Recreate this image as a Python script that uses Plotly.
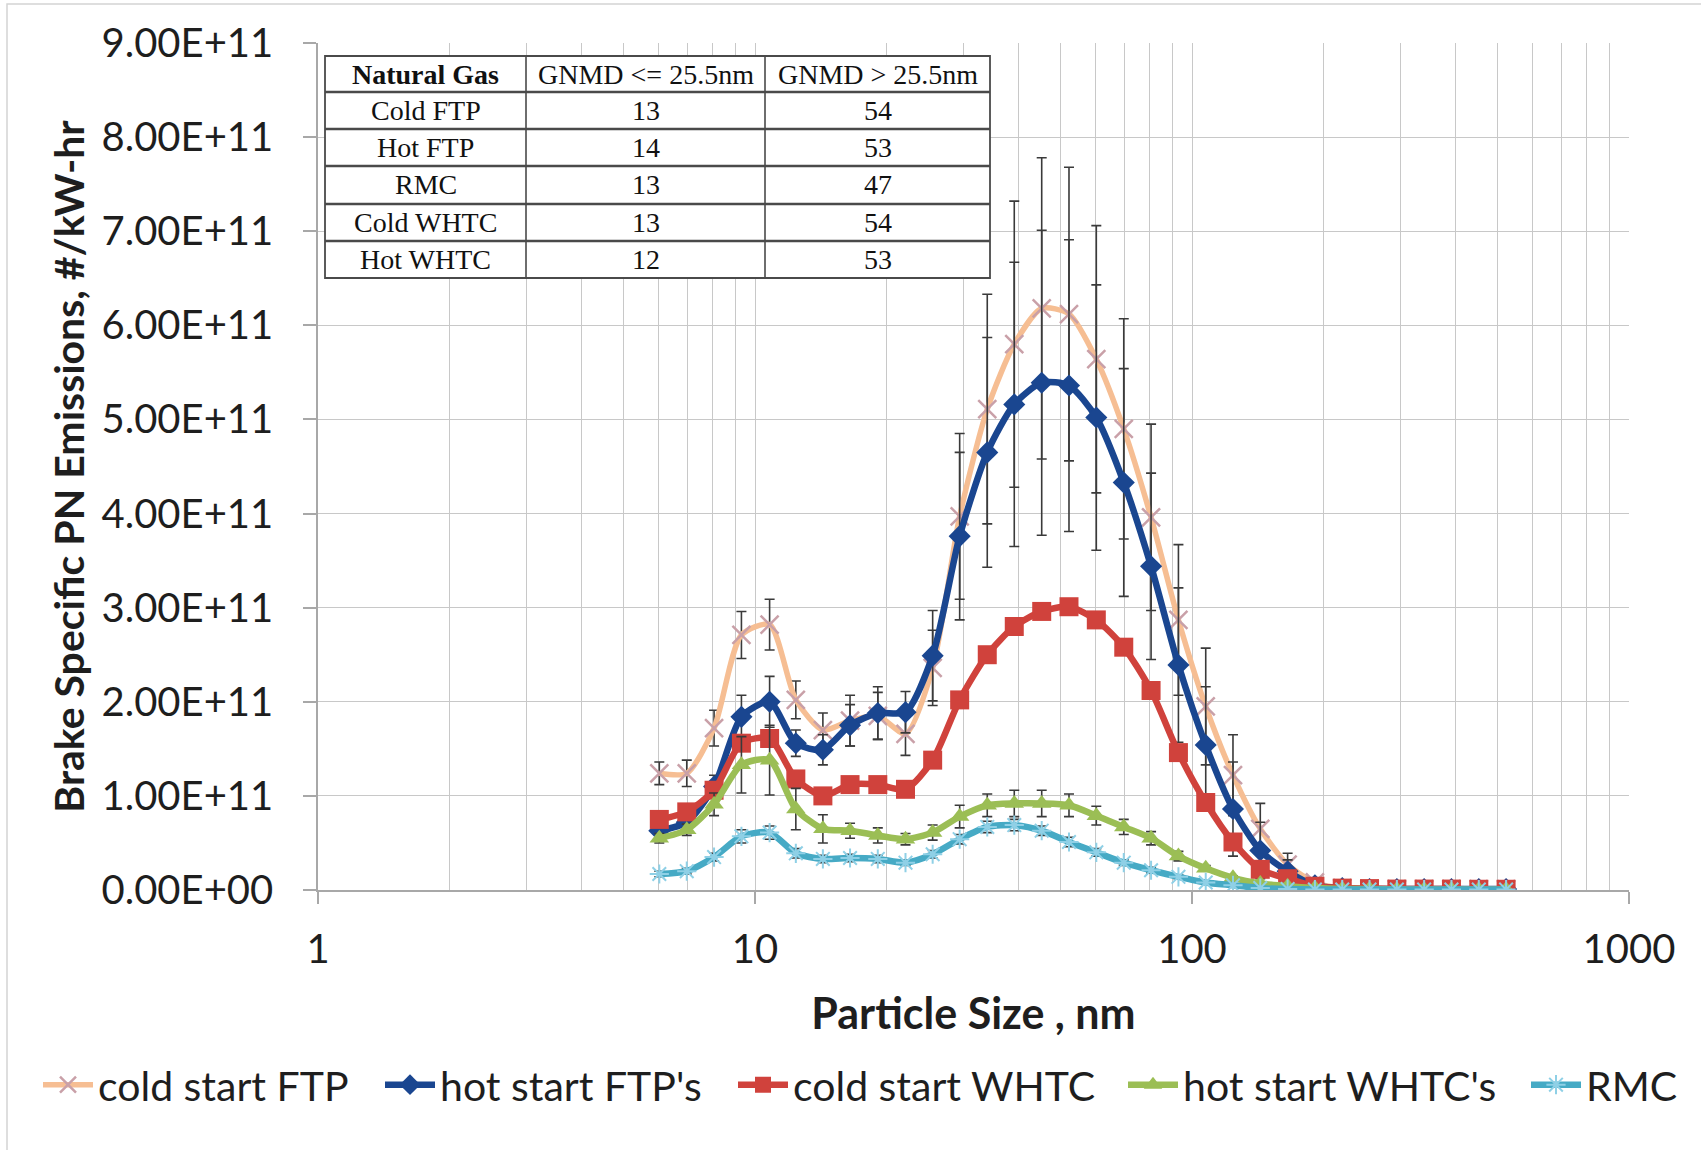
import plotly.graph_objects as go

# ---------------- data ----------------
particle_size_nm = [6.04, 6.98, 8.06, 9.31, 10.8, 12.4, 14.3, 16.5, 19.1, 22.1, 25.5,
                    29.4, 34.0, 39.2, 45.3, 52.3, 60.4, 69.8, 80.6, 93.1, 107.5, 124.1,
                    143.3, 165.5, 191.1, 220.7, 254.8, 294.3, 339.8, 392.4, 453.2, 523.3]

SCALE = 1e11  # values below are in units of 1E+11 #/kW-hr

cold_start_ftp = [1.24, 1.24, 1.72, 2.71, 2.82, 2.02, 1.70, 1.80, 1.85, 1.66, 2.36,
                  3.97, 5.11, 5.80, 6.18, 6.12, 5.64, 4.90, 3.96, 2.87, 1.95, 1.22,
                  0.65, 0.27, 0.08, 0.02, 0.01, 0.01, 0.01, 0.01, 0.01, 0.01]
cold_start_ftp_err = [0.12, 0.14, 0.19, 0.25, 0.27, 0.20, 0.18, 0.27, 0.25, 0.23, 0.40,
                      0.88, 1.22, 1.52, 1.60, 1.56, 1.42, 1.17, 0.99, 0.80, 0.62, 0.43,
                      0.27, 0.12, 0.04, 0.01, 0, 0, 0, 0, 0, 0]

hot_start_ftp = [0.63, 0.72, 1.10, 1.84, 2.00, 1.56, 1.49, 1.75, 1.88, 1.89, 2.49,
                 3.76, 4.65, 5.16, 5.39, 5.36, 5.02, 4.33, 3.44, 2.39, 1.54, 0.86,
                 0.42, 0.20, 0.05, 0.02, 0.01, 0.01, 0.01, 0.01, 0.01, 0.01]
hot_start_ftp_err = [0.05, 0.06, 0.12, 0.23, 0.27, 0.14, 0.16, 0.22, 0.28, 0.22, 0.48,
                     0.89, 1.22, 1.51, 1.62, 1.55, 1.41, 1.21, 0.99, 0.82, 0.62, 0.50,
                     0.30, 0.12, 0.04, 0.01, 0, 0, 0, 0, 0, 0]

cold_start_whtc = [0.75, 0.83, 1.06, 1.56, 1.61, 1.18, 1.00, 1.12, 1.12, 1.07, 1.38,
                   2.02, 2.50, 2.80, 2.96, 3.01, 2.87, 2.58, 2.12, 1.46, 0.93, 0.51,
                   0.22, 0.12, 0.04, 0.02, 0.015, 0.01, 0.01, 0.01, 0.008, 0.008]

hot_start_whtc = [0.55, 0.64, 0.91, 1.33, 1.38, 0.86, 0.65, 0.63, 0.58, 0.54, 0.61,
                  0.78, 0.90, 0.92, 0.92, 0.90, 0.79, 0.67, 0.55, 0.36, 0.23, 0.13,
                  0.07, 0.04, 0.02, 0.01, 0.01, 0.005, 0.005, 0.005, 0.005, 0.005]
hot_start_whtc_err = [0.05, 0.06, 0.12, 0.30, 0.37, 0.22, 0.15, 0.08, 0.08, 0.06, 0.08,
                      0.12, 0.12, 0.14, 0.14, 0.12, 0.10, 0.08, 0.07, 0.05, 0.03, 0.02,
                      0.01, 0, 0, 0, 0, 0, 0, 0, 0, 0]

rmc = [0.17, 0.20, 0.35, 0.57, 0.61, 0.39, 0.33, 0.34, 0.33, 0.29, 0.38,
       0.54, 0.67, 0.69, 0.63, 0.51, 0.40, 0.29, 0.21, 0.14, 0.08, 0.05,
       0.02, 0.01, 0.005, 0.005, 0.005, 0.005, 0.005, 0.005, 0.005, 0.005]
rmc_err = [0.03, 0.03, 0.04, 0.07, 0.07, 0.05, 0.04, 0.04, 0.04, 0.03, 0.04,
           0.05, 0.06, 0.06, 0.05, 0.05, 0.04, 0.03, 0.03, 0.02, 0.01, 0.01,
           0, 0, 0, 0, 0, 0, 0, 0, 0, 0]

series_names = ["cold start FTP", "hot start FTP's", "cold start WHTC",
                "hot start WHTC's", "RMC"]

y_tick_values = [0, 1e11, 2e11, 3e11, 4e11, 5e11, 6e11, 7e11, 8e11, 9e11]
y_tick_labels = ["0.00E+00", "1.00E+11", "2.00E+11", "3.00E+11", "4.00E+11",
                 "5.00E+11", "6.00E+11", "7.00E+11", "8.00E+11", "9.00E+11"]
x_tick_values = [1, 10, 100, 1000]
x_tick_labels = ["1", "10", "100", "1000"]

x_title = "Particle Size , nm"
y_title = "Brake Specific PN Emissions, #/kW-hr"

table_header = ["<b>Natural Gas</b>", "GNMD &lt;= 25.5nm", "GNMD &gt; 25.5nm"]
table_cycles = ["Cold FTP", "Hot FTP", "RMC", "Cold WHTC", "Hot WHTC"]
table_gnmd_small = ["13", "14", "13", "13", "12"]
table_gnmd_large = ["54", "53", "47", "54", "53"]

# ---------------- layout geometry (pixels) ----------------
W, H = 1701, 1150
PX0, PX1, PY0, PY1 = 318, 1629, 43, 890


def fx(px):
    return (px - PX0) / (PX1 - PX0)


def fy(py):
    return (PY1 - py) / (PY1 - PY0)


FONT = "Lato, 'Open Sans', sans-serif"
TXT = "#1e1e1e"
GRID = "#C8C8C8"
ERR = "#3a3a3a"

fig = go.Figure()

styles = [
    dict(y=cold_start_ftp, err=cold_start_ftp_err, line="#F6BE93", lw=5.5,
         marker=dict(symbol="x-thin", size=18, color="#C9A0A8",
                     line=dict(width=2.5, color="#C9A0A8"))),
    dict(y=hot_start_ftp, err=hot_start_ftp_err, line="#1A4690", lw=6.5,
         marker=dict(symbol="diamond", size=17, color="#1A4690", line=dict(width=0))),
    dict(y=cold_start_whtc, err=None, line="#D0423C", lw=6.5,
         marker=dict(symbol="square", size=19, color="#D0423C", line=dict(width=0))),
    dict(y=hot_start_whtc, err=hot_start_whtc_err, line="#9BBE55", lw=6.5,
         marker=dict(symbol="triangle-up", size=17, color="#9BBE55", line=dict(width=0))),
    dict(y=rmc, err=rmc_err, line="#46AAC5", lw=6.5,
         marker=dict(symbol="asterisk", size=16, color="#8FD0E6",
                     line=dict(width=2, color="#8FD0E6"))),
]

legend_ids = ["legend", "legend2", "legend3", "legend4", "legend5"]

for name, st, lid in zip(series_names, styles, legend_ids):
    yv = [v * SCALE for v in st["y"]]
    err = None
    if st["err"] is not None:
        err = dict(type="data", array=[e * SCALE for e in st["err"]], color=ERR,
                   thickness=1.6, width=5)
    fig.add_trace(go.Scatter(
        x=particle_size_nm, y=yv, name=name, mode="lines+markers",
        line=dict(color=st["line"], width=st["lw"], shape="spline", smoothing=0.7),
        marker=st["marker"], error_y=err, legend=lid, showlegend=True,
    ))

# ---------------- table (shapes + annotations) ----------------
table_x = [325, 526, 765, 990]
table_y = [56, 92, 129, 166, 204, 241, 278]
TLINE = "#4a4a4a"

fig.add_shape(type="rect", xref="paper", yref="paper",
              x0=fx(table_x[0]), x1=fx(table_x[-1]), y0=fy(table_y[-1]), y1=fy(table_y[0]),
              fillcolor="white", line=dict(color=TLINE, width=1.8), layer="above")
for yy in table_y[1:-1]:
    fig.add_shape(type="line", xref="paper", yref="paper",
                  x0=fx(table_x[0]), x1=fx(table_x[-1]), y0=fy(yy), y1=fy(yy),
                  line=dict(color=TLINE, width=2.5), layer="above")
for xx in table_x[1:-1]:
    fig.add_shape(type="line", xref="paper", yref="paper",
                  x0=fx(xx), x1=fx(xx), y0=fy(table_y[-1]), y1=fy(table_y[0]),
                  line=dict(color=TLINE, width=1.6), layer="above")

table_rows = [table_header] + [list(r) for r in zip(table_cycles, table_gnmd_small, table_gnmd_large)]
for ri, row in enumerate(table_rows):
    cy = (table_y[ri] + table_y[ri + 1]) / 2
    for ci, txt in enumerate(row):
        cx = (table_x[ci] + table_x[ci + 1]) / 2
        fig.add_annotation(x=fx(cx), y=fy(cy), xref="paper", yref="paper",
                           text=txt, showarrow=False, xanchor="center", yanchor="middle",
                           font=dict(family="'Liberation Serif', 'Times New Roman', serif",
                                     size=28, color="#111111"))

# outer chart border
fig.add_shape(type="rect", xref="paper", yref="paper",
              x0=fx(7), x1=fx(1720), y0=fy(1170), y1=fy(4),
              line=dict(color="#D4D4D4", width=1.5), fillcolor="rgba(0,0,0,0)", layer="above")

# ---------------- axes ----------------
minor_vals = [m * 10 ** k for k in range(3) for m in range(2, 10)]

fig.update_xaxes(
    type="log", range=[0, 3],
    tickmode="array", tickvals=x_tick_values, ticktext=x_tick_labels,
    showgrid=True, gridcolor=GRID, gridwidth=1.2,
    minor=dict(tickmode="array", tickvals=minor_vals, showgrid=True,
               gridcolor=GRID, gridwidth=1.2, ticks=""),
    showline=True, linecolor="#A8A8A8", linewidth=1.5,
    ticks="outside", ticklen=12, tickcolor="#A8A8A8", tickwidth=1.5,
    tickfont=dict(family=FONT, size=40, color=TXT),
    ticklabelstandoff=11,
    title=dict(text=x_title, font=dict(family=FONT, size=43, color=TXT, weight="bold"),
               standoff=28),
    zeroline=False,
)
fig.update_yaxes(
    range=[0, 9e11],
    tickmode="array", tickvals=y_tick_values, ticktext=y_tick_labels,
    showgrid=True, gridcolor=GRID, gridwidth=1.2,
    showline=True, linecolor="#A8A8A8", linewidth=1.5,
    ticks="outside", ticklen=13, tickcolor="#A8A8A8", tickwidth=1.5,
    tickfont=dict(family=FONT, size=40, color=TXT),
    ticklabelstandoff=22,
    title=dict(text=y_title, font=dict(family=FONT, size=41, color=TXT, weight="bold"),
               standoff=4),
    zeroline=False,
)

# ---------------- legends (one per entry for precise placement) ----------------
legend_starts = [43, 385, 738, 1128, 1531]
legend_cfg = {}
for lid, px in zip(legend_ids, legend_starts):
    legend_cfg[lid] = dict(
        x=(px - 5) / W, xref="container", xanchor="left",
        y=1 - 1085 / H, yref="container", yanchor="middle",
        orientation="h", itemwidth=50, bgcolor="rgba(0,0,0,0)", borderwidth=0,
        font=dict(family=FONT, size=41, color=TXT),
    )

fig.update_layout(
    width=W, height=H, autosize=False,
    margin=dict(l=PX0, r=W - PX1, t=PY0, b=H - PY1, pad=0),
    paper_bgcolor="white", plot_bgcolor="white",
    showlegend=True,
    **legend_cfg,
)

fig.write_html("out.html")
